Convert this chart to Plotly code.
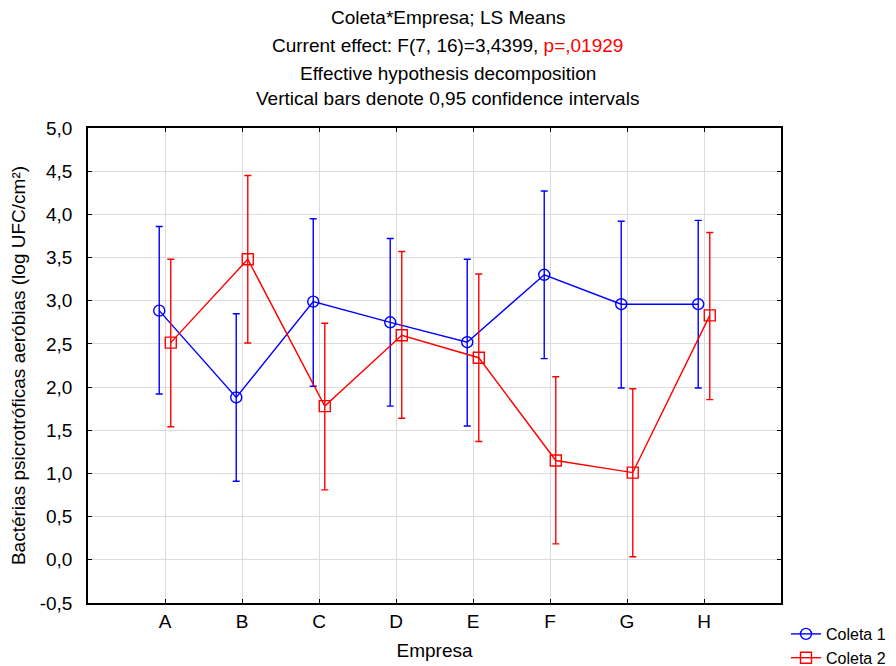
import plotly.graph_objects as go

categories = ["A", "B", "C", "D", "E", "F", "G", "H"]

coleta1_mean = [2.885, 1.88, 2.99, 2.75, 2.52, 3.30, 2.96, 2.96]
coleta1_upper = [3.86, 2.85, 3.95, 3.72, 3.48, 4.27, 3.92, 3.93]
coleta1_lower = [1.92, 0.91, 2.01, 1.78, 1.55, 2.33, 1.99, 1.99]

coleta2_mean = [2.515, 3.48, 1.78, 2.60, 2.34, 1.15, 1.01, 2.83]
coleta2_upper = [3.48, 4.45, 2.74, 3.57, 3.31, 2.12, 1.98, 3.79]
coleta2_lower = [1.54, 2.51, 0.81, 1.64, 1.37, 0.185, 0.035, 1.855]

y_tickvals = [-0.5, 0.0, 0.5, 1.0, 1.5, 2.0, 2.5, 3.0, 3.5, 4.0, 4.5, 5.0]
y_ticktext = ["-0,5", "0,0", "0,5", "1,0", "1,5", "2,0", "2,5", "3,0", "3,5", "4,0", "4,5", "5,0"]

title_lines = [
    "Coleta*Empresa; LS Means",
    "Current effect: F(7, 16)=3,4399, <span style='color:#FF0000'>p=,01929</span>",
    "Effective hypothesis decomposition",
    "Vertical bars denote 0,95 confidence intervals",
]

FONT = "Liberation Sans, Arial, sans-serif"
FS = 19
offset = 0.075
base_x = list(range(1, len(categories) + 1))

# page is rendered with an 8px body margin; figure coordinates = page - 8
W, H = 888, 658
ML, MT, PW, PH = 80, 120, 693, 475

def make_trace(name, mean, upper, lower, color, symbol, shift):
    return go.Scatter(
        x=[b + shift for b in base_x],
        y=mean,
        name=name,
        mode="lines+markers",
        line=dict(color=color, width=1.4),
        marker=dict(symbol=symbol, size=11, color=color, line=dict(color=color, width=1.4)),
        error_y=dict(
            type="data",
            symmetric=False,
            array=[u - m for u, m in zip(upper, mean)],
            arrayminus=[m - l for m, l in zip(mean, lower)],
            color=color,
            thickness=1.4,
            width=3.5,
        ),
    )

fig = go.Figure()
fig.add_trace(make_trace("Coleta 1", coleta1_mean, coleta1_upper, coleta1_lower, "#0000FF", "circle-open", -offset))
fig.add_trace(make_trace("Coleta 2", coleta2_mean, coleta2_upper, coleta2_lower, "#FF0000", "square-open", offset))

title_y = [18, 46, 73, 99]
for txt, yp in zip(title_lines, title_y):
    fig.add_annotation(
        text=txt, xref="paper", yref="paper",
        x=(448 - 8 - ML) / PW, y=(MT + PH - (yp - 8)) / PH,
        xanchor="center", yanchor="middle", showarrow=False,
        font=dict(family=FONT, size=FS, color="black"),
    )

fig.update_layout(
    width=W, height=H,
    margin=dict(l=ML, r=W - ML - PW, t=MT, b=H - MT - PH),
    paper_bgcolor="white", plot_bgcolor="white",
    font=dict(family=FONT, size=FS, color="black"),
    showlegend=True,
    legend=dict(
        xref="container", yref="container",
        x=778 / W, y=1 - 609 / H, xanchor="left", yanchor="top",
        font=dict(family=FONT, size=16, color="black"),
        bgcolor="rgba(0,0,0,0)", tracegroupgap=0, itemwidth=30,
    ),
    xaxis=dict(
        range=[0, 9], automargin=False,
        tickvals=base_x, ticktext=categories,
        showgrid=True, gridcolor="#DCDCDC", gridwidth=1,
        zeroline=False,
        showline=True, linecolor="black", linewidth=1.5, mirror="ticks",
        ticks="inside", ticklen=4, tickcolor="black",
        title=dict(text="Empresa", font=dict(family=FONT, size=FS), standoff=13),
        tickfont=dict(family=FONT, size=FS),
        ticklabelstandoff=0,
    ),
    yaxis=dict(
        range=[-0.5, 5.0], automargin=False,
        tickvals=y_tickvals, ticktext=y_ticktext,
        showgrid=True, gridcolor="#DCDCDC", gridwidth=1,
        zeroline=False,
        showline=True, linecolor="black", linewidth=1.5, mirror="ticks",
        ticks="inside", ticklen=4, tickcolor="black",
        title=dict(text="Bactérias psicrotróficas aeróbias (log UFC/cm²)", font=dict(family=FONT, size=FS), standoff=11),
        tickfont=dict(family=FONT, size=FS),
        ticklabelstandoff=10,
    ),
)

fig.write_html("out.html")
